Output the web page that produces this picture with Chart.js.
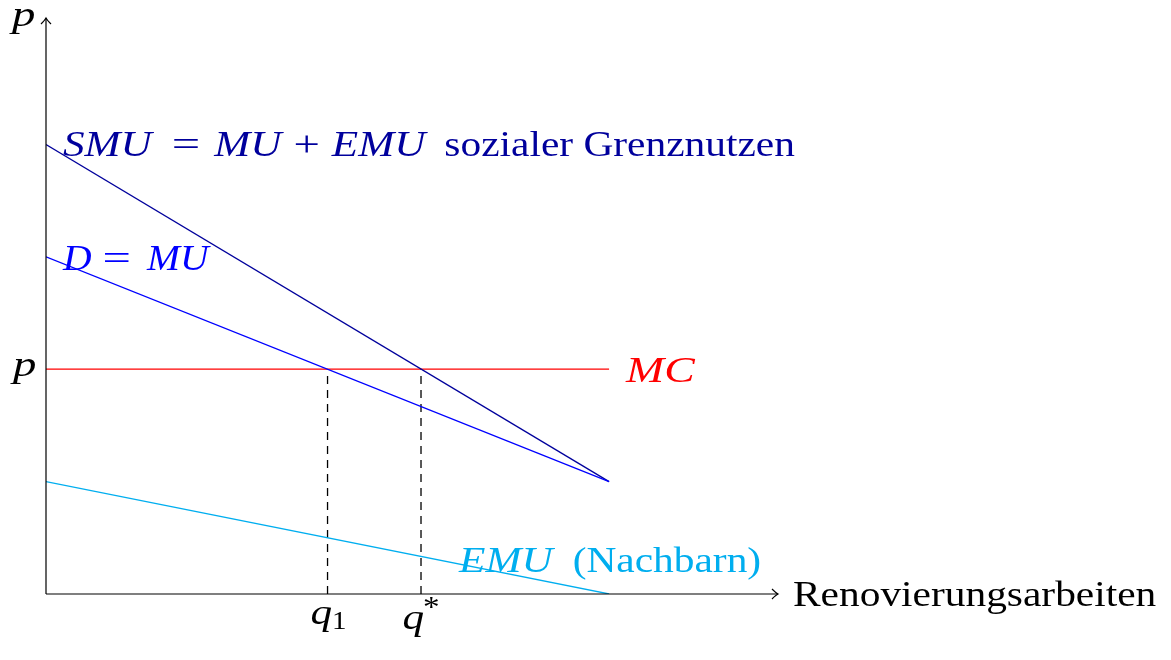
<!DOCTYPE html>
<html>
<head>
<meta charset="utf-8">
<script src="https://cdn.jsdelivr.net/npm/chart.js@4/dist/chart.umd.min.js"></script>
<style>
  html, body { margin: 0; padding: 0; background: #fff; }
  #wrap { width: 1171px; height: 660px; position: relative; }
</style>
</head>
<body>
<div id="wrap"><canvas id="chart"></canvas></div>
<script>
// quantity endpoints of the curves
const curveX = [0, 5];
const smuValues = [4, 1];      // SMU = MU + EMU
const demandValues = [3, 1];   // D = MU
const emuValues = [1, 0];      // EMU (Nachbarn)
const mcValues = [2, 2];       // MC
const priceLevel = 2;
const qMarks = [2.5, 3.33];
const qLabels = ['q1', 'q*'];
const xMax = 6.5;
const yMax = 5.125;

const navy = '#00009c';
const blue = '#0000ff';
const red = '#ff0000';
const cyan = '#00aeef';

const FONT = '"Liberation Serif", "Times New Roman", serif';
const SIZE = 36;
const UP = 1.15;   // widen upright text towards Computer Modern
const IT = 1.2;    // widen math italic

function pts(ys) {
    return curveX.map((x, i) => ({ x: x, y: ys[i] }));
}

function lineSet(data, color, dash) {
    return {
        data: data,
        showLine: true,
        borderColor: color,
        borderWidth: 1.3,
        borderDash: dash || [],
        pointRadius: 0,
        fill: false,
        tension: 0
    };
}

const datasets = [
    lineSet(pts(emuValues), cyan),
    lineSet(pts(demandValues), blue),
    lineSet(pts(smuValues), navy),
    lineSet(pts(mcValues), red),
    ...qMarks.map(q => lineSet([{ x: q, y: 0 }, { x: q, y: priceLevel }], '#000', [8, 6]))
];

// draw segments of mixed italic / upright text, each stretched horizontally
function drawRich(ctx, parts, x, y, color) {
    ctx.fillStyle = color;
    ctx.textBaseline = 'alphabetic';
    ctx.textAlign = 'left';
    parts.forEach(p => {
        ctx.font = (p.i ? 'italic ' : '') + (p.s || SIZE) + 'px ' + FONT;
        const k = p.k || (p.i ? IT : UP);
        ctx.save();
        ctx.translate(x, y + (p.dy || 0));
        ctx.scale(k, 1);
        ctx.fillText(p.t, 0, 0);
        ctx.restore();
        x += ctx.measureText(p.t).width * k + (p.gap || 0);
    });
    return x;
}

function textWidth(ctx, parts) {
    let w = 0;
    parts.forEach(p => {
        ctx.font = (p.i ? 'italic ' : '') + (p.s || SIZE) + 'px ' + FONT;
        w += ctx.measureText(p.t).width * (p.k || (p.i ? IT : UP)) + (p.gap || 0);
    });
    return w;
}

function arrowHead(ctx, x, y, dir) {
    ctx.save();
    ctx.translate(x, y);
    ctx.rotate(dir);
    ctx.beginPath();
    ctx.moveTo(-6, -5);
    ctx.quadraticCurveTo(-2, -1, 0, 0);
    ctx.quadraticCurveTo(-2, 1, -6, 5);
    ctx.stroke();
    ctx.restore();
}

const overlay = {
    id: 'overlay',
    afterDatasetsDraw(chart) {
        const ctx = chart.ctx;
        const xs = chart.scales.x, ys = chart.scales.y;
        const x0 = xs.getPixelForValue(0), y0 = ys.getPixelForValue(0);
        const xEnd = xs.getPixelForValue(xMax), yEnd = ys.getPixelForValue(yMax);

        ctx.save();
        ctx.strokeStyle = '#000';
        ctx.lineWidth = 1.2;
        ctx.beginPath();
        ctx.moveTo(x0, y0); ctx.lineTo(xEnd, y0);
        ctx.moveTo(x0, y0); ctx.lineTo(x0, yEnd);
        ctx.stroke();
        arrowHead(ctx, xEnd, y0, 0);
        arrowHead(ctx, x0, yEnd, -Math.PI / 2);

        // axis labels
        drawRich(ctx, [{ t: 'p', i: true, k: 1.3 }], x0 - 34, yEnd + 8, '#000');
        drawRich(ctx, [{ t: 'p', i: true, k: 1.3 }], x0 - 33, ys.getPixelForValue(priceLevel) + 7, '#000');
        drawRich(ctx, [{ t: 'Renovierungsarbeiten' }], xEnd + 15, y0 + 12, '#000');

        // curve labels
        drawRich(ctx, [
            { t: 'SMU', i: true, gap: 20 }, { t: '=', k: 1.4, gap: 14 }, { t: 'MU', i: true, gap: 12 },
            { t: '+', k: 1.3, gap: 12 }, { t: 'EMU', i: true, gap: 19 }, { t: 'sozialer Grenznutzen' }
        ], x0 + 17, ys.getPixelForValue(smuValues[0]) + 12, navy);
        drawRich(ctx, [
            { t: 'D', i: true, k: 1.1, gap: 11 }, { t: '=', k: 1.4, gap: 16 }, { t: 'MU', i: true, k: 1.1 }
        ], x0 + 17, ys.getPixelForValue(demandValues[0]) + 13, blue);
        drawRich(ctx, [{ t: 'MC', i: true, k: 1.27 }], xs.getPixelForValue(curveX[1]) + 17,
            ys.getPixelForValue(mcValues[1]) + 13, red);
        drawRich(ctx, [{ t: 'EMU', i: true, gap: 20 }, { t: '(Nachbarn)' }],
            xs.getPixelForValue(curveX[1]) - 150, ys.getPixelForValue(emuValues[1]) - 22, cyan);

        // quantity ticks
        qMarks.forEach((q, i) => {
            const px = xs.getPixelForValue(q);
            let parts;
            if (qLabels[i] === 'q1') {
                parts = [{ t: 'q', i: true, k: 1.2 }, { t: '1', s: SIZE * 0.7, dy: 5 }];
                drawRich(ctx, parts, px - textWidth(ctx, parts) / 2 + 1, y0 + 30, '#000');
            } else {
                parts = [{ t: 'q', i: true, k: 1.2, gap: -1 }, { t: '*', s: SIZE * 0.8, dy: -13 }];
                drawRich(ctx, parts, px - textWidth(ctx, parts) / 2, y0 + 35, '#000');
            }
        });
        ctx.restore();
    }
};

new Chart(document.getElementById('chart'), {
    type: 'scatter',
    data: { datasets: datasets },
    options: {
        responsive: true,
        maintainAspectRatio: false,
        animation: false,
        layout: { padding: { left: 46, right: 393, top: 18, bottom: 66 } },
        plugins: { legend: { display: false }, tooltip: { enabled: false } },
        scales: {
            x: { type: 'linear', min: 0, max: xMax, display: false },
            y: { type: 'linear', min: 0, max: yMax, display: false }
        }
    },
    plugins: [overlay]
});
</script>
</body>
</html>
